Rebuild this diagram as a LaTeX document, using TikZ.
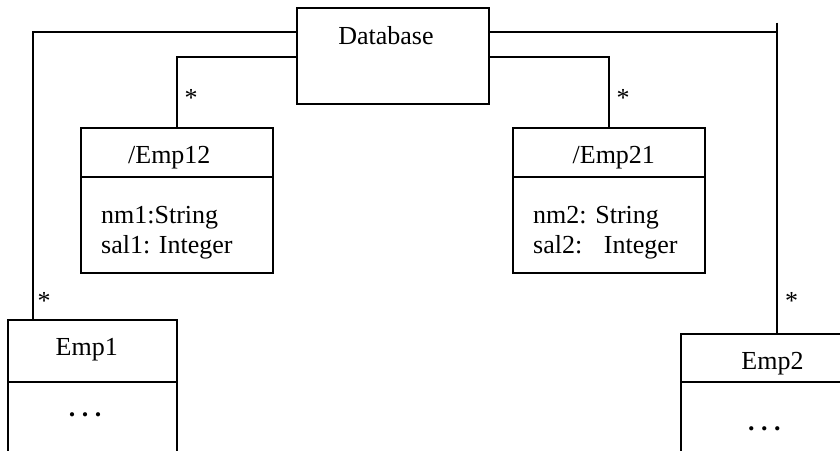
\documentclass[tikz,border=0pt]{standalone}
\usepackage{fontspec}
\setmainfont{Liberation Serif}
\begin{document}
\begin{tikzpicture}[x=1pt,y=-1pt,
  box/.style={draw,line width=1.8pt,rectangle,inner sep=0pt,outer sep=0pt,anchor=north west},
  lbl/.style={font=\fontsize{26}{30}\selectfont,inner sep=0pt,anchor=base},
  attr/.style={font=\fontsize{26}{30}\selectfont,inner sep=0pt,anchor=base west},
  wire/.style={line width=1.8pt}]
\useasboundingbox (0,0) rectangle (840,450);
\clip (0,0) rectangle (840,450);
\fill[white] (0,0) rectangle (840,450);

% Database class
\node[box,minimum width=192pt,minimum height=96pt] (db) at (297,8) {};
\node[lbl] (dbname) at (386,44.3) {Database};

% derived class /Emp12
\node[box,minimum width=192pt,minimum height=48.7pt] (e12head) at (81,128) {};
\node[box,minimum width=192pt,minimum height=96pt] (e12body) at (e12head.south west) {};
\node[lbl] (e12name) at (169.3,163.3) {/Emp12};
\node[attr] (e12a) at (101,223.3) {nm1:String};
\node[attr] (e12b) at (101,253.3) {sal1: Integer};

% derived class /Emp21
\node[box,minimum width=192.3pt,minimum height=48.7pt] (e21head) at (512.7,128) {};
\node[box,minimum width=192.3pt,minimum height=96pt] (e21body) at (e21head.south west) {};
\node[lbl] (e21name) at (613.8,163.3) {/Emp21};
\node[attr] (e21a) at (533,223.3) {nm2: String};
\node[attr] (e21b) at (533,253.3) {sal2:\hspace{13pt} Integer};

% class Emp1 (runs off the bottom)
\node[box,minimum width=169pt,minimum height=62pt] (e1head) at (8,320) {};
\node[box,minimum width=169pt,minimum height=120pt] (e1body) at (e1head.south west) {};
\node[lbl] (e1name) at (86.7,355) {Emp1};
\node[lbl] (e1dots) at (85,416.5) {\textbf{.\ .\ .}};

% class Emp2 (runs off the bottom and right)
\node[box,minimum width=183pt,minimum height=48.3pt] (e2head) at (681,334) {};
\node[box,minimum width=183pt,minimum height=120pt] (e2body) at (e2head.south west) {};
\node[lbl] (e2name) at (772.5,369.3) {Emp2};
\node[lbl] (e2dots) at (764.3,430.5) {\textbf{.\ .\ .}};

% associations
\coordinate (kL) at (32.7,32.3);
\draw[wire] (kL -| db.west) -- (kL) -- (kL |- e1head.north);
\coordinate (kIL) at (176.7,56.7);
\draw[wire] (kIL -| db.west) -- (kIL) -- (kIL |- e12head.north);
\coordinate (kIR) at (609,56.7);
\draw[wire] (kIR -| db.east) -- (kIR) -- (kIR |- e21head.north);
\coordinate (kR) at (776.7,32.3);
\coordinate (topR) at (776.7,22.7);
\draw[wire] (kR -| db.east) -- (kR);
\draw[wire] (topR) -- (topR |- e2head.north);

% multiplicities
\node[lbl] (mIL) at (191,106) {*};
\node[lbl] (mIR) at (623,106) {*};
\node[lbl] (mL) at (44,309.3) {*};
\node[lbl] (mR) at (791.5,309.3) {*};
\end{tikzpicture}
\end{document}
